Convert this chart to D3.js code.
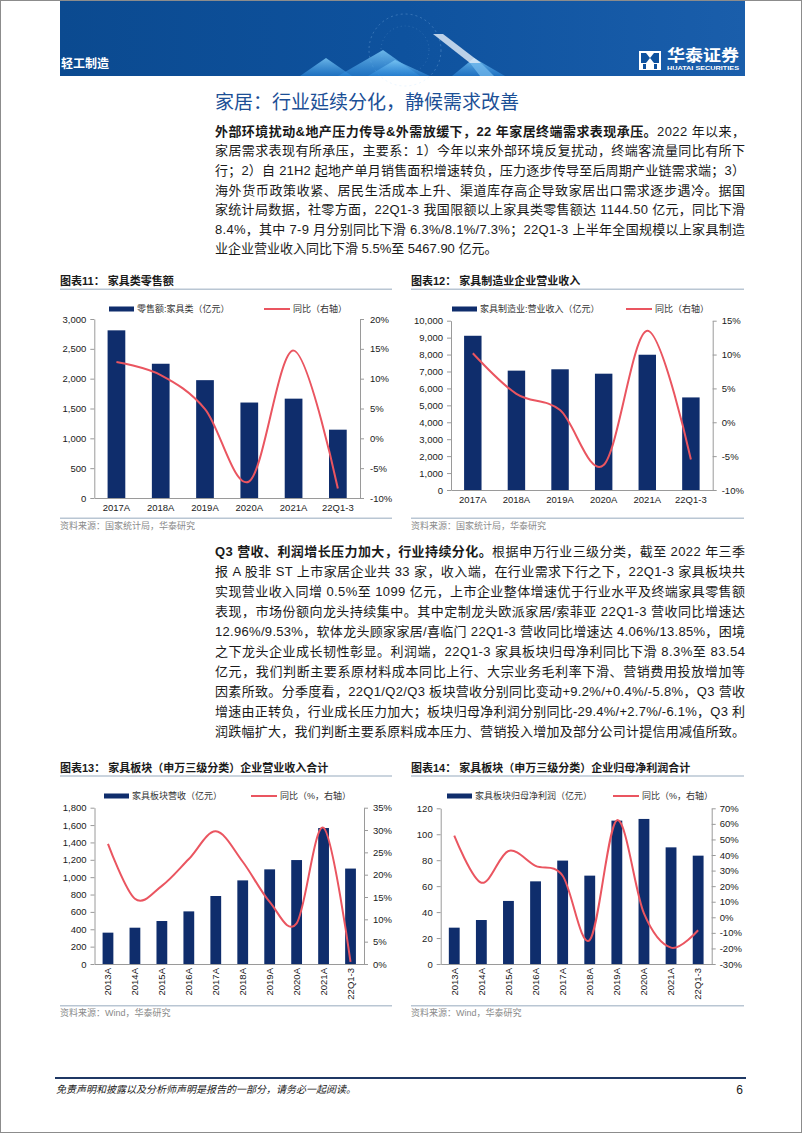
<!DOCTYPE html>
<html><head><meta charset="utf-8">
<script src="https://cdn.jsdelivr.net/npm/d3@7"></script>
<style>
html,body{margin:0;padding:0;background:#fff;}
svg{display:block;}
text{font-family:"Liberation Sans","Noto Sans CJK SC",sans-serif;}
</style></head><body>
<svg id="page" width="802" height="1133"></svg>
<script>
// ---------------- DATA ----------------
const cats11 = ["2017A","2018A","2019A","2020A","2021A","22Q1-3"];
const retail11 = [2810, 2250, 1975, 1600, 1665, 1145];
const yoy11 = [12.8, 10.6, 4.9, -7.2, 14.7, -8.4];
const leftTicks11 = [0,500,1000,1500,2000,2500,3000];
const rightTicks11 = [-10,-5,0,5,10,15,20];

const cats12 = ["2017A","2018A","2019A","2020A","2021A","22Q1-3"];
const revenue12 = [9110, 7050, 7130, 6870, 7990, 5468];
const yoy12 = [10.2, 4.2, 1.8, -6.3, 13.5, -5.5];
const leftTicks12 = [0,1000,2000,3000,4000,5000,6000,7000,8000,9000,10000];
const rightTicks12 = [-10,-5,0,5,10,15];

const cats13 = ["2013A","2014A","2015A","2016A","2017A","2018A","2019A","2020A","2021A","22Q1-3"];
const revenue13 = [361, 418, 495, 606, 783, 963, 1090, 1197, 1566, 1099];
const yoy13 = [26.9, 14.6, 17.5, 23.5, 29.7, 22.9, 13.9, 9.1, 30.5, 0.5];
const leftTicks13 = [0,200,400,600,800,1000,1200,1400,1600,1800];
const rightTicks13 = [0,5,10,15,20,25,30,35];

const cats14 = ["2013A","2014A","2015A","2016A","2017A","2018A","2019A","2020A","2021A","22Q1-3"];
const profit14 = [28.0, 33.9, 48.6, 63.7, 79.7, 68.1, 110.5, 111.8, 89.9, 83.5];
const yoy14 = [52.4, 22.2, 42.6, 33.0, 26.7, -14.6, 62.3, 2.5, -19.5, -8.3];
const leftTicks14 = [0,20,40,60,80,100,120];
const rightTicks14 = [-30,-20,-10,0,10,20,30,40,50,60,70];

const para1 = [
  [["外部环境扰动&地产压力传导&外需放缓下，22 年家居终端需求表现承压。",1],["2022 年以来，",0]],
  [["家居需求表现有所承压，主要系：1）今年以来外部环境反复扰动，终端客流量同比有所下",0]],
  [["行；2）自 21H2 起地产单月销售面积增速转负，压力逐步传导至后周期产业链需求端；3）",0]],
  [["海外货币政策收紧、居民生活成本上升、渠道库存高企导致家居出口需求逐步遇冷。据国",0]],
  [["家统计局数据，社零方面，22Q1-3 我国限额以上家具类零售额达 1144.50 亿元，同比下滑",0]],
  [["8.4%，其中 7-9 月分别同比下滑 6.3%/8.1%/7.3%；22Q1-3 上半年全国规模以上家具制造",0]],
  [["业企业营业收入同比下滑 5.5%至 5467.90 亿元。",0]]
];
const para2 = [
  [["Q3 营收、利润增长压力加大，行业持续分化。",1],["根据申万行业三级分类，截至 2022 年三季",0]],
  [["报 A 股非 ST 上市家居企业共 33 家，收入端，在行业需求下行之下，22Q1-3 家具板块共",0]],
  [["实现营业收入同增 0.5%至 1099 亿元，上市企业整体增速优于行业水平及终端家具零售额",0]],
  [["表现，市场份额向龙头持续集中。其中定制龙头欧派家居/索菲亚 22Q1-3 营收同比增速达",0]],
  [["12.96%/9.53%，软体龙头顾家家居/喜临门 22Q1-3 营收同比增速达 4.06%/13.85%，困境",0]],
  [["之下龙头企业成长韧性彰显。利润端，22Q1-3 家具板块归母净利同比下滑 8.3%至 83.54",0]],
  [["亿元，我们判断主要系原材料成本同比上行、大宗业务毛利率下滑、营销费用投放增加等",0]],
  [["因素所致。分季度看，22Q1/Q2/Q3 板块营收分别同比变动+9.2%/+0.4%/-5.8%，Q3 营收",0]],
  [["增速由正转负，行业成长压力加大；板块归母净利润分别同比-29.4%/+2.7%/-6.1%，Q3 利",0]],
  [["润跌幅扩大，我们判断主要系原料成本压力、营销投入增加及部分公司计提信用减值所致。",0]]
];

// ---------------- PAGE ----------------
const BAR = "#0f2d6c", LINE = "#ea5560", AXIS = "#9a9a9a", SEP = "#b9c6d3";
const svg = d3.select("#page");
const defs = svg.append("defs");
const bg = defs.append("linearGradient").attr("id","band").attr("x1","0").attr("x2","1");
bg.append("stop").attr("offset","0").attr("stop-color","#0b4a90");
bg.append("stop").attr("offset","0.5").attr("stop-color","#0e529e");
bg.append("stop").attr("offset","1").attr("stop-color","#1a5eab");
const tg = defs.append("linearGradient").attr("id","tri").attr("x1","0").attr("x2","0").attr("y1","0").attr("y2","1");
tg.append("stop").attr("offset","0").attr("stop-color","#7cc8f5").attr("stop-opacity",0.85);
tg.append("stop").attr("offset","1").attr("stop-color","#2a86d8").attr("stop-opacity",0.6);

svg.append("rect").attr("x",0.5).attr("y",0.5).attr("width",801).attr("height",1132)
  .attr("fill","#fff").attr("stroke","#8c8c8c");

// header band
svg.append("rect").attr("x",60).attr("y",1).attr("width",685).attr("height",75).attr("fill","url(#band)");
const deco = svg.append("g");
deco.append("circle").attr("cx",405).attr("cy",50).attr("r",36).attr("fill","none")
  .attr("stroke","rgba(180,220,255,0.25)").attr("stroke-dasharray","2 3");
deco.append("circle").attr("cx",405).attr("cy",50).attr("r",24).attr("fill","none")
  .attr("stroke","rgba(180,220,255,0.18)").attr("stroke-dasharray","1 3");
[[[300,76],[326,58],[352,76]],[[338,76],[383,50],[420,76]],[[368,76],[395,60],[430,76]],
 [[452,76],[474,58],[505,76]]].forEach(p=>{
  deco.append("polygon").attr("points",p.map(q=>q.join(",")).join(" ")).attr("fill","url(#tri)");
});
deco.append("polygon").attr("points","433,34 443,34 481,63 470,63").attr("fill","rgba(230,240,250,0.8)");
deco.append("polygon").attr("points","470,63 481,63 494,76 480,76").attr("fill","rgba(120,190,240,0.7)");
svg.append("text").attr("x",61).attr("y",67.5).attr("fill","#fff").attr("font-size",12).attr("font-weight",700).text("轻工制造");
// logo
const logo = svg.append("g");
logo.append("rect").attr("x",639).attr("y",51).attr("width",22).attr("height",19).attr("fill","#fff");
logo.append("polygon").attr("points","641,53 646,53 650,58 646,63 641,63").attr("fill","#0e529e");
logo.append("polygon").attr("points","659,53 654,53 650,58 654,63 659,63").attr("fill","#0e529e");
logo.append("rect").attr("x",643).attr("y",64).attr("width",3).attr("height",5).attr("fill","#0e529e");
logo.append("rect").attr("x",654).attr("y",64).attr("width",3).attr("height",5).attr("fill","#0e529e");
svg.append("text").attr("x",667).attr("y",61).attr("fill","#fff").attr("font-size",15.5).attr("font-weight",700)
  .attr("textLength",72).attr("lengthAdjust","spacingAndGlyphs").text("华泰证券");
svg.append("text").attr("x",667).attr("y",70).attr("fill","#fff").attr("font-size",6).attr("font-weight",700)
  .attr("textLength",72).attr("lengthAdjust","spacingAndGlyphs").text("HUATAI SECURITIES");

// section title
svg.append("text").attr("x",215).attr("y",109).attr("fill","#1c4f96").attr("font-size",19).text("家居：行业延续分化，静候需求改善");

function drawPara(lines, x, y0, lh, justifyLast){
  lines.forEach((segs,i)=>{
    const t = svg.append("text").attr("x",x).attr("y",y0+lh*i).attr("font-size",13).attr("fill","#1a1a1a");
    segs.forEach(s=>t.append("tspan").attr("font-weight",s[1]?700:400).text(s[0]));
    if(i<lines.length-1 || justifyLast) t.attr("textLength",530).attr("lengthAdjust","spacing");
  });
}
drawPara(para1, 215, 135.8, 19.6, false);
drawPara(para2, 215, 555.5, 20.1, true);

// ---------------- CHARTS ----------------
function chartFrame(x0, x1, titleY, title, lineY, srcY, src){
  svg.append("text").attr("x",x0).attr("y",titleY).attr("font-size",11).attr("font-weight",700).attr("fill","#1a1a1a").text(title);
  svg.append("line").attr("x1",x0).attr("x2",x1).attr("y1",titleY+4).attr("y2",titleY+4).attr("stroke",SEP).attr("stroke-width",1.5);
  svg.append("line").attr("x1",x0).attr("x2",x1).attr("y1",lineY).attr("y2",lineY).attr("stroke",SEP).attr("stroke-width",1.5);
  svg.append("text").attr("x",x0).attr("y",srcY).attr("font-size",9).attr("fill","#8a8a8a").text(src);
}

function drawChart(o){
  const g = svg.append("g");
  const x = d3.scaleBand().domain(o.cats).range([o.left,o.right]).paddingInner(0.6).paddingOuter(0.3);
  const yL = d3.scaleLinear().domain(o.lDomain).range([o.bottom,o.top]);
  const yR = d3.scaleLinear().domain(o.rDomain).range([o.bottom,o.top]);
  g.selectAll("rect.bar").data(o.bars).join("rect").attr("class","bar")
    .attr("x",(d,i)=>x(o.cats[i])).attr("width",x.bandwidth())
    .attr("y",d=>yL(d)).attr("height",d=>o.bottom-yL(d)).attr("fill",BAR);
  const gl = g.append("g").attr("transform",`translate(${o.left},0)`)
    .call(d3.axisLeft(yL).tickValues(o.lTicks).tickSize(4).tickSizeOuter(0).tickPadding(4).tickFormat(o.lFmt));
  const gr = g.append("g").attr("transform",`translate(${o.right},0)`)
    .call(d3.axisRight(yR).tickValues(o.rTicks).tickSize(4).tickSizeOuter(0).tickPadding(o.rPad).tickFormat(d=>d+"%"));
  const gx = g.append("g").attr("transform",`translate(0,${o.bottom})`)
    .call(d3.axisBottom(x).tickSize(0).tickSizeOuter(0).tickPadding(o.rotate?4:6));
  [gl,gr,gx].forEach(a=>{
    a.select(".domain").attr("stroke",AXIS);
    a.selectAll(".tick line").attr("stroke",AXIS);
    a.selectAll("text").attr("font-size",9.5).attr("fill","#1a1a1a").attr("font-family",null);
  });
  if(o.rotate){
    gx.selectAll(".tick text").attr("transform","rotate(-90)").attr("text-anchor","end")
      .attr("x",-4).attr("y",0).attr("dy","0.35em");
  }
  const line = d3.line().x((d,i)=>x(o.cats[i])+x.bandwidth()/2).y(d=>yR(d)).curve(d3.curveCardinal.tension(0));
  g.append("path").datum(o.line).attr("d",line).attr("fill","none").attr("stroke",LINE).attr("stroke-width",2);
  // legend
  const lg = g.append("g");
  lg.append("rect").attr("x",o.lgBar).attr("y",o.lgY-2.5).attr("width",25).attr("height",5).attr("fill",BAR);
  lg.append("text").attr("x",o.lgBar+28).attr("y",o.lgY+3.2).attr("font-size",9).attr("fill","#333").text(o.barName);
  lg.append("line").attr("x1",o.lgLine).attr("x2",o.lgLine+26).attr("y1",o.lgY).attr("y2",o.lgY).attr("stroke",LINE).attr("stroke-width",2);
  lg.append("text").attr("x",o.lgLine+29).attr("y",o.lgY+3.2).attr("font-size",9).attr("fill","#333").text(o.lineName);
}

chartFrame(60, 392, 285.3, "图表11：  家具类零售额", 518.3, 529, "资料来源：国家统计局，华泰研究");
chartFrame(411, 744, 285.3, "图表12：  家具制造业企业营业收入", 518.3, 529, "资料来源：国家统计局，华泰研究");
chartFrame(60, 392, 772, "图表13：  家具板块（申万三级分类）企业营业收入合计", 1005.7, 1016, "资料来源：Wind，华泰研究");
chartFrame(411, 744, 772, "图表14：  家具板块（申万三级分类）企业归母净利润合计", 1005.7, 1016, "资料来源：Wind，华泰研究");

drawChart({cats:cats11, bars:retail11, line:yoy11, left:94.3, right:360, top:319, bottom:498,
  lDomain:[0,3000], rDomain:[-10,20], lTicks:leftTicks11, rTicks:rightTicks11, lFmt:d3.format(","), rPad:6,
  lgY:309, lgBar:109, lgLine:264, barName:"零售额:家具类（亿元）", lineName:"同比（右轴）"});
drawChart({cats:cats12, bars:revenue12, line:yoy12, left:451, right:712.7, top:320.7, bottom:490,
  lDomain:[0,10000], rDomain:[-10,15], lTicks:leftTicks12, rTicks:rightTicks12, lFmt:d3.format(","), rPad:5,
  lgY:309, lgBar:452, lgLine:626, barName:"家具制造业:营业收入（亿元）", lineName:"同比（右轴）"});
drawChart({cats:cats13, bars:revenue13, line:yoy13, left:94.5, right:364, top:807.7, bottom:964, rotate:true,
  lDomain:[0,1800], rDomain:[0,35], lTicks:leftTicks13, rTicks:rightTicks13, lFmt:d3.format(","), rPad:5,
  lgY:796, lgBar:104, lgLine:251, barName:"家具板块营收（亿元）", lineName:"同比（%，右轴）"});
drawChart({cats:cats14, bars:profit14, line:yoy14, left:440.7, right:711.7, top:808.3, bottom:964, rotate:true,
  lDomain:[0,120], rDomain:[-30,70], lTicks:leftTicks14, rTicks:rightTicks14, lFmt:d3.format("d"), rPad:4,
  lgY:796, lgBar:447, lgLine:613, barName:"家具板块归母净利润（亿元）", lineName:"同比（%，右轴）"});

// footer
svg.append("line").attr("x1",55).attr("x2",746).attr("y1",1078).attr("y2",1078).attr("stroke","#1f3864").attr("stroke-width",2);
svg.append("text").attr("x",56).attr("y",1093).attr("font-size",10).attr("font-style","italic").attr("fill","#1a1a1a")
  .text("免责声明和披露以及分析师声明是报告的一部分，请务必一起阅读。");
svg.append("text").attr("x",743).attr("y",1093.5).attr("font-size",12).attr("text-anchor","end").attr("fill","#1a1a1a").text("6");
</script>
</body></html>
